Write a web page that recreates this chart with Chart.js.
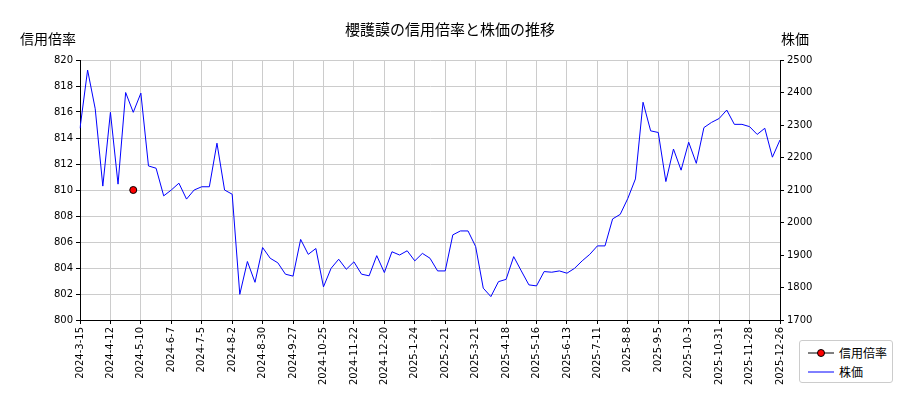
<!DOCTYPE html>
<html><head><meta charset="utf-8">
<script src="https://cdn.jsdelivr.net/npm/chart.js@4"></script>
<style>
body{margin:0;background:#fff;font-family:"Noto Sans CJK JP","Noto Sans",sans-serif;}
#wrap{position:relative;width:900px;height:400px;}
.t{position:absolute;font-size:14px;color:#000;}
#legend{position:absolute;left:799px;top:340px;width:92px;height:41px;border:1px solid #ccc;border-radius:3px;font-size:12px;background:#fff;}
</style></head><body>
<div id="wrap">
<canvas id="c" width="900" height="400"></canvas>
<div class="t" style="left:0;width:900px;text-align:center;top:18px;font-size:15px;">櫻護謨の信用倍率と株価の推移</div>
<div class="t" style="left:20px;top:28px;">信用倍率</div>
<div class="t" style="left:781px;top:28px;">株価</div>
<div id="legend">
<div style="position:absolute;left:6px;top:4px;"><svg width="30" height="12"><line x1="2" y1="6" x2="28" y2="6" stroke="#000" stroke-width="1"/><circle cx="15" cy="6" r="3.5" fill="red" stroke="#000" stroke-width="1"/></svg></div>
<div style="position:absolute;left:39px;top:3px;">信用倍率</div>
<div style="position:absolute;left:6px;top:23px;"><svg width="30" height="12"><line x1="2" y1="6" x2="28" y2="6" stroke="blue" stroke-width="1"/></svg></div>
<div style="position:absolute;left:39px;top:22px;">株価</div>
</div>
</div>
<script>
const startDate = '2024-03-15';
const skippedDates = ['2025-1-3'];
const price = [2290,2469,2350,2112,2339,2118,2400,2339,2398,2174,2167,2082,2100,2121,2072,2100,2110,2110,2244,2100,2087,1779,1880,1816,1923,1890,1876,1841,1835,1948,1902,1920,1802,1859,1887,1856,1879,1841,1836,1898,1846,1910,1900,1913,1882,1905,1890,1851,1851,1962,1974,1974,1926,1798,1772,1818,1825,1895,1851,1808,1805,1849,1847,1851,1844,1859,1882,1902,1928,1928,2011,2025,2074,2134,2370,2282,2277,2126,2226,2161,2247,2182,2292,2308,2320,2346,2302,2302,2295,2271,2290,2201,2254];
const marginDates = ['2024-5-3'];
const marginValues = [810];

const labels = [];
const d0 = new Date(startDate + 'T00:00:00Z');
for (let w = 0; labels.length < price.length; w++) {
  const d = new Date(d0.getTime() + w * 7 * 86400000);
  const s = d.getUTCFullYear() + '-' + (d.getUTCMonth() + 1) + '-' + d.getUTCDate();
  if (!skippedDates.includes(s)) labels.push(s);
}
const margin = labels.map(l => { const k = marginDates.indexOf(l); return k >= 0 ? marginValues[k] : null; });
Chart.defaults.font.family = 'DejaVu Sans';

new Chart(document.getElementById('c'), {
  data: { labels, datasets: [
    { type:'line', label:'信用倍率', data: margin, yAxisID:'y', borderColor:'#000', backgroundColor:'red', pointRadius:3.5, pointBorderWidth:1, showLine:false, order:0 },
    { type:'line', label:'株価', data: price, yAxisID:'y1', borderColor:'blue', borderWidth:1, pointRadius:0, tension:0, order:1 }
  ]},
  options: {
    responsive:false, animation:false,
    layout:{ padding:{ top:60, right:0, left:0, bottom:0 } },
    plugins:{ legend:{display:false}, title:{display:false}, tooltip:{enabled:false} },
    scales:{
      x:{ offset:false,
          grid:{ color:c=> c.index%4===0 ? '#ccc' : 'rgba(0,0,0,0)', tickColor:c=> c.index%4===0 ? '#000' : 'rgba(0,0,0,0)', tickLength:4 },
          border:{color:'#000'},
          ticks:{ autoSkip:false, maxRotation:90, minRotation:90, color:'#000', font:{size:10}, callback:(v,i)=> i%4===0 ? labels[i] : '' },
          afterFit:s=>{ s.height = 80; } },
      y:{ position:'left', min:800, max:820, ticks:{ stepSize:2, color:'#000', font:{size:10} }, grid:{color:'#ccc', tickColor:'#000', tickLength:4}, border:{color:'#000'},
          afterFit:s=>{ s.width = 80; } },
      y1:{ position:'right', min:1700, max:2500, ticks:{ stepSize:100, color:'#000', font:{size:10}, callback:v=>String(v) }, grid:{drawOnChartArea:false, tickLength:4, tickColor:'#000'}, border:{color:'#000'},
          afterFit:s=>{ s.width = 120; } }
    }
  }
});
</script>
</body></html>
